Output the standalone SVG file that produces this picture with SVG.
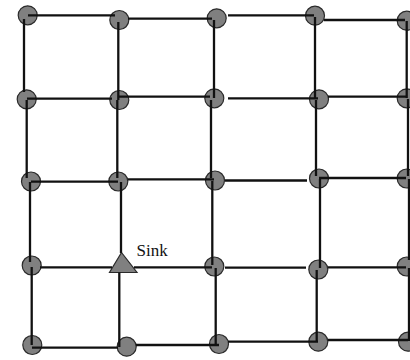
<svg xmlns="http://www.w3.org/2000/svg" width="410" height="360" viewBox="0 0 410 360">
<style>
.n{fill:#808080;stroke:#2a2a2a;stroke-width:1.2}
.e{stroke:#111;stroke-width:2.3;fill:none}
.t{font-family:"Liberation Serif","Times New Roman",serif;font-size:17px;fill:#111}
</style>
<rect width="410" height="360" fill="#fff"/>
<g id="nodes">
<g id="n11"><circle class="n" cx="27.7" cy="15.3" r="9.5"/></g>
<g id="n12"><circle class="n" cx="119.3" cy="20" r="9.5"/></g>
<g id="n13"><circle class="n" cx="216.7" cy="18.3" r="9.5"/></g>
<g id="n14"><circle class="n" cx="315" cy="15.7" r="9.5"/></g>
<g id="n15"><circle class="n" cx="406.7" cy="20.7" r="9.5"/></g>
<g id="n21"><circle class="n" cx="26.7" cy="99.3" r="9.5"/></g>
<g id="n22"><circle class="n" cx="119.3" cy="100" r="9.5"/></g>
<g id="n23"><circle class="n" cx="214.3" cy="98.3" r="9.5"/></g>
<g id="n24"><circle class="n" cx="319" cy="99.3" r="9.5"/></g>
<g id="n25"><circle class="n" cx="406.7" cy="98.3" r="9.5"/></g>
<g id="n31"><circle class="n" cx="31" cy="181.5" r="9.5"/></g>
<g id="n32"><circle class="n" cx="118.3" cy="181.5" r="9.5"/></g>
<g id="n33"><circle class="n" cx="215" cy="180.5" r="9.5"/></g>
<g id="n34"><circle class="n" cx="319" cy="178.5" r="9.5"/></g>
<g id="n35"><circle class="n" cx="406.7" cy="178.5" r="9.5"/></g>
<g id="n41"><circle class="n" cx="31.7" cy="265.5" r="9.5"/></g>
<g id="sink"><polygon class="n" points="121.5,252.5 137,272.5 109.5,272.5"/><text class="t" x="136.5" y="256">Sink</text></g>
<g id="n43"><circle class="n" cx="214.3" cy="266.5" r="9.5"/></g>
<g id="n44"><circle class="n" cx="318.3" cy="269.5" r="9.5"/></g>
<g id="n45"><circle class="n" cx="406.7" cy="266.5" r="9.5"/></g>
<g id="n51"><circle class="n" cx="32.3" cy="345" r="9.5"/></g>
<g id="n52"><circle class="n" cx="126.7" cy="346.7" r="9.5"/></g>
<g id="n53"><circle class="n" cx="219" cy="344" r="9.5"/></g>
<g id="n54"><circle class="n" cx="318.3" cy="341.7" r="9.5"/></g>
<g id="n55"><circle class="n" cx="408" cy="341.7" r="9.5"/></g>
</g>
<g id="connectors" class="e">
<line x1="28" y1="15.3" x2="115" y2="15.3"/>
<line x1="128" y1="18.7" x2="212" y2="18.7"/>
<line x1="228" y1="15.3" x2="314" y2="15.3"/>
<line x1="324" y1="20" x2="405" y2="20"/>
<line x1="24" y1="19" x2="24" y2="92"/>
<line x1="118.3" y1="22" x2="118.3" y2="100"/>
<line x1="214" y1="20" x2="214" y2="98"/>
<line x1="315" y1="17" x2="315" y2="99"/>
<line x1="406.7" y1="21" x2="406.7" y2="98"/>
<line x1="27" y1="98.7" x2="112" y2="98.7"/>
<line x1="119" y1="96.7" x2="210" y2="96.7"/>
<line x1="228" y1="98.3" x2="318" y2="98.3"/>
<line x1="328" y1="96.7" x2="406" y2="96.7"/>
<line x1="26.7" y1="100" x2="26.7" y2="178"/>
<line x1="117.3" y1="100" x2="117.3" y2="178"/>
<line x1="211" y1="100" x2="211" y2="178"/>
<line x1="316" y1="100" x2="316" y2="176"/>
<line x1="408" y1="99" x2="408" y2="176"/>
<line x1="31" y1="181.7" x2="118" y2="181.7"/>
<line x1="128" y1="179.3" x2="214" y2="179.3"/>
<line x1="225" y1="180.5" x2="307" y2="180.5"/>
<line x1="319" y1="178" x2="406" y2="178"/>
<line x1="30" y1="182" x2="30" y2="262"/>
<line x1="121" y1="182" x2="121" y2="253"/>
<line x1="212.3" y1="181" x2="212.3" y2="265"/>
<line x1="320" y1="179" x2="320" y2="268"/>
<line x1="409" y1="179" x2="409" y2="260"/>
<line x1="40" y1="267.3" x2="112" y2="267.3"/>
<line x1="134" y1="267.3" x2="212" y2="267.3"/>
<line x1="225" y1="267.7" x2="306" y2="267.7"/>
<line x1="328" y1="267.3" x2="406" y2="267.3"/>
<line x1="31.7" y1="267" x2="31.7" y2="345"/>
<line x1="119.3" y1="272.5" x2="119.3" y2="347"/>
<line x1="215.7" y1="268" x2="215.7" y2="344"/>
<line x1="316.7" y1="270" x2="316.7" y2="342"/>
<line x1="409" y1="268" x2="409" y2="341"/>
<line x1="32" y1="347.7" x2="118" y2="347.7"/>
<line x1="136" y1="345" x2="219" y2="345"/>
<line x1="228" y1="341.7" x2="318" y2="341.7"/>
<line x1="328" y1="340" x2="408" y2="340"/>
</g>
</svg>
